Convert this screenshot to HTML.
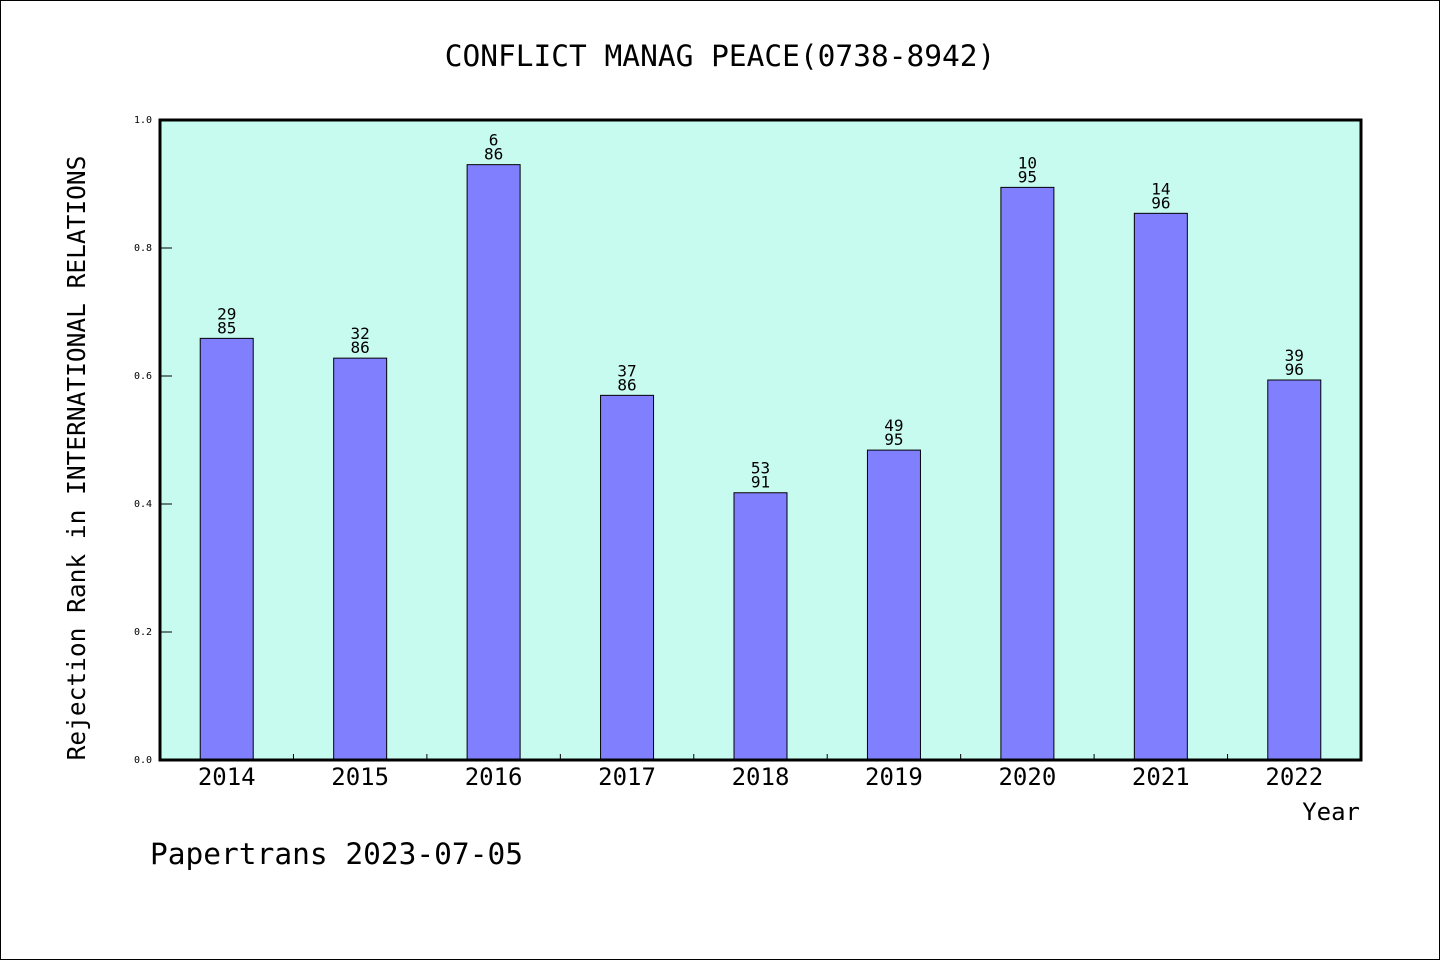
<!DOCTYPE html>
<html><head><meta charset="utf-8"><style>
html,body{margin:0;padding:0;background:#fff;}
svg{display:block;}
text{font-family:"DejaVu Sans Mono","Liberation Mono",monospace;fill:#000;}
</style></head><body>
<svg id="chart" width="1440" height="960" xmlns="http://www.w3.org/2000/svg">
<rect x="0.5" y="0.5" width="1439" height="959" fill="#fff" stroke="#000" stroke-width="1"/>
<text x="720" y="66" text-anchor="middle" font-size="29.5">CONFLICT MANAG PEACE(0738-8942)</text>
<rect x="160" y="120" width="1201" height="640" fill="#c8fbef"/>
<g id="bars"></g>
<rect x="160" y="120" width="1201" height="640" fill="none" stroke="#000" stroke-width="3"/>
<text transform="translate(85,458) rotate(-90)" text-anchor="middle" font-size="24.5">Rejection Rank in INTERNATIONAL RELATIONS</text>
<text x="1360" y="820" text-anchor="end" font-size="24">Year</text>
<text x="150" y="864" font-size="29.5">Papertrans 2023-07-05</text>
</svg>
<script>
const years = ['2014','2015','2016','2017','2018','2019','2020','2021','2022'];
const ranks = [29,32,6,37,53,49,10,14,39];
const totals = [85,86,86,86,91,95,95,96,96];
const yTicks = [0,0.2,0.4,0.6,0.8,1.0];
const yTickLabels = ['0.0','0.2','0.4','0.6','0.8','1.0'];

const NS='http://www.w3.org/2000/svg';
const svg=document.getElementById('chart');
const g=document.getElementById('bars');
const X0=160,X1=1361,Y0=760,Y1=120;
const step=(X1-X0)/years.length;
const xc=i=>X0+step*(i+0.5);
const ys=v=>Y0-(Y0-Y1)*v;
function mk(tag,attrs,parent){const e=document.createElementNS(NS,tag);for(const k in attrs)e.setAttribute(k,attrs[k]);(parent||svg).appendChild(e);return e;}

years.forEach((yr,i)=>{
  const v=1-ranks[i]/totals[i];
  const bw=53;
  const r=mk('rect',{x:xc(i)-bw/2,y:ys(v),width:bw,height:Y0-ys(v),fill:'#8080ff',stroke:'#000','stroke-width':1},g);
  
  
  const t1=mk('text',{x:xc(i),y:ys(v)-19,'text-anchor':'middle','font-size':16});
  t1.textContent=ranks[i];
  
  
  const t2=mk('text',{x:xc(i),y:ys(v)-5,'text-anchor':'middle','font-size':16});
  t2.textContent=totals[i];
  
  
  const xl=mk('text',{x:xc(i),y:785,'text-anchor':'middle','font-size':24});
  xl.textContent=yr;
  
  
  if(i>0){
    const tk=mk('line',{x1:X0+step*i,x2:X0+step*i,y1:Y0,y2:Y0-6,stroke:'#000','stroke-width':1});
    
    
  }
});
yTicks.forEach((t,i)=>{
  const l=mk('line',{x1:X0,x2:X0+12,y1:ys(t),y2:ys(t),stroke:'#000','stroke-width':1});
  
  
  const tx=mk('text',{x:152,y:ys(t)+3,'text-anchor':'end','font-size':10});
  tx.textContent=yTickLabels[i];
  
  
});
</script>
</body></html>
